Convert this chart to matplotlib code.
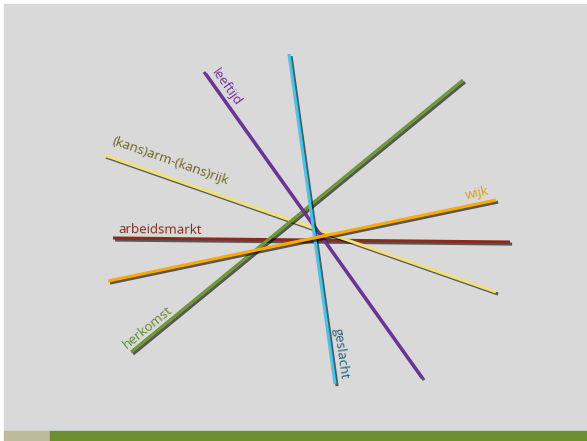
import matplotlib.pyplot as plt
import matplotlib.patheffects as pe
from matplotlib.patches import Rectangle

# lines in pixel coordinates of the slide (x to the right, y downwards)
names = ['arbeidsmarkt', '(kans)arm-(kans)rijk', 'herkomst', 'leeftijd', 'geslacht', 'wijk']
x_start = [113, 104, 131, 204, 289, 108]
y_start = [238, 155, 352, 72, 54, 281]
x_end = [510, 496, 463, 422, 335, 496]
y_end = [242, 292, 80, 378, 384, 200]
line_colors = ['#8b2b1b', '#efe07a', '#6b9a2e', '#7030a0', '#3cc8f0', '#ffa800']

# label positions and styles
label_x = [160, 170, 148, 226, 341, 477]
label_y = [230, 161, 327, 87, 354, 193]
label_rot = [-0.6, -19.3, 39.3, -54.5, -82.0, 11.8]
label_colors = ['#7b2c1c', '#6b6420', '#5e8a2a', '#7030a0', '#1f5f7a', '#d9a010']

W, H = 587, 441
fig = plt.figure(figsize=(W / 100, H / 100), dpi=100, facecolor='white')
ax = fig.add_axes([0, 0, 1, 1])
ax.set_xlim(0, W)
ax.set_ylim(H, 0)
ax.axis('off')

# slide background and footer bar
ax.add_patch(Rectangle((4, 4), W - 4, 427, color='#d9d9d9', zorder=0))
ax.add_patch(Rectangle((4, 431), 46, 10, color='#bcbc9a', zorder=0))
ax.add_patch(Rectangle((50, 431), W - 50, 10, color='#6d8f2f', zorder=0))

shadow = [pe.SimpleLineShadow(offset=(1.5, -1.5), shadow_color='black', alpha=0.6),
          pe.Normal()]

for i in range(len(names)):
    ax.plot([x_start[i], x_end[i]], [y_start[i], y_end[i]], color=line_colors[i],
            lw=2.2, solid_capstyle='butt', path_effects=shadow, zorder=2 + i)
    ax.text(label_x[i], label_y[i], names[i], color=label_colors[i], fontsize=9.5,
            family='Open Sans', rotation=label_rot[i], rotation_mode='anchor',
            ha='center', va='center', zorder=10)

fig.savefig('out.png', dpi=100, facecolor='white')
